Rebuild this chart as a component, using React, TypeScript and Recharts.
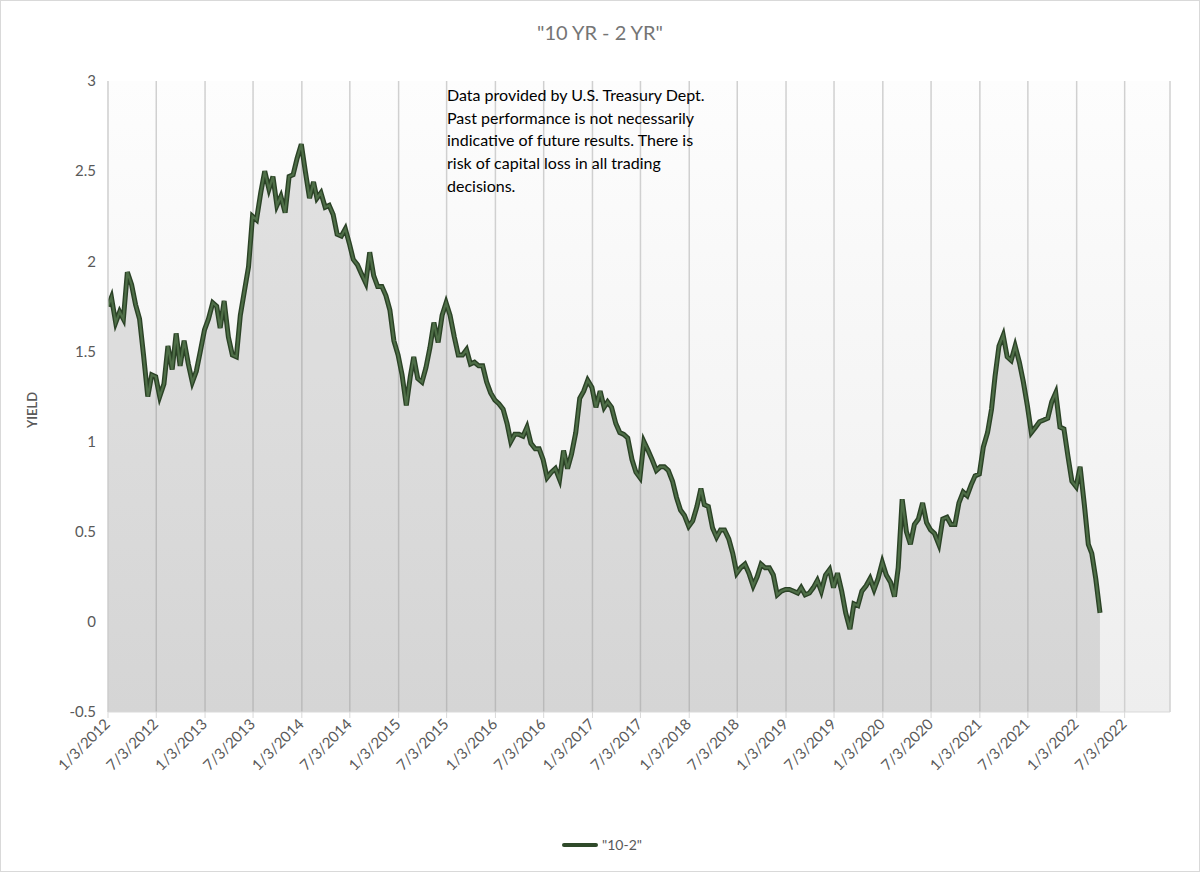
import React from 'react';
import { Area, CartesianGrid, ComposedChart, Line, XAxis, YAxis } from 'recharts';

// Readings of the 10y-2y spread, one on the 1st and one on the 16th of each
// month (2012 starts on Jan 3, 2022 stops at Apr 1).
const y2012 = [1.75, 1.80, 1.66, 1.72, 1.68, 1.94, 1.87, 1.76, 1.68, 1.48, 1.25, 1.37, 1.36, 1.25, 1.32, 1.53, 1.40, 1.60, 1.42, 1.56, 1.43, 1.33, 1.39, 1.50];
const y2013 = [1.62, 1.68, 1.77, 1.75, 1.63, 1.78, 1.58, 1.48, 1.47, 1.70, 1.84, 1.97, 2.25, 2.23, 2.38, 2.50, 2.40, 2.47, 2.31, 2.36, 2.27, 2.47, 2.48, 2.57];
const y2014 = [2.65, 2.50, 2.35, 2.44, 2.35, 2.38, 2.30, 2.31, 2.26, 2.15, 2.14, 2.18, 2.10, 2.01, 1.98, 1.93, 1.88, 2.05, 1.92, 1.86, 1.86, 1.81, 1.73, 1.56];
const y2015 = [1.48, 1.37, 1.20, 1.36, 1.47, 1.35, 1.33, 1.41, 1.52, 1.66, 1.55, 1.70, 1.77, 1.70, 1.58, 1.48, 1.48, 1.51, 1.43, 1.44, 1.42, 1.42, 1.33, 1.27];
const y2016 = [1.23, 1.21, 1.18, 1.10, 1.00, 1.04, 1.04, 1.03, 1.08, 0.99, 0.96, 0.96, 0.90, 0.80, 0.83, 0.85, 0.79, 0.95, 0.85, 0.93, 1.05, 1.24, 1.28, 1.34];
const y2017 = [1.30, 1.19, 1.28, 1.19, 1.22, 1.19, 1.10, 1.05, 1.04, 1.02, 0.90, 0.83, 0.80, 1.00, 0.95, 0.90, 0.84, 0.86, 0.86, 0.84, 0.78, 0.69, 0.62, 0.59];
const y2018 = [0.53, 0.56, 0.64, 0.74, 0.65, 0.64, 0.52, 0.47, 0.51, 0.51, 0.46, 0.38, 0.27, 0.30, 0.32, 0.27, 0.20, 0.25, 0.32, 0.30, 0.30, 0.26, 0.15, 0.17];
const y2019 = [0.18, 0.18, 0.17, 0.16, 0.19, 0.15, 0.16, 0.19, 0.23, 0.17, 0.26, 0.29, 0.19, 0.27, 0.17, 0.05, -0.04, 0.10, 0.09, 0.17, 0.20, 0.24, 0.18, 0.24];
const y2020 = [0.33, 0.26, 0.22, 0.14, 0.30, 0.68, 0.50, 0.43, 0.54, 0.57, 0.66, 0.55, 0.51, 0.49, 0.43, 0.57, 0.58, 0.54, 0.54, 0.66, 0.72, 0.70, 0.76, 0.81];
const y2021 = [0.82, 0.97, 1.05, 1.18, 1.36, 1.53, 1.59, 1.47, 1.45, 1.53, 1.44, 1.33, 1.20, 1.05, 1.08, 1.11, 1.12, 1.13, 1.22, 1.27, 1.08, 1.07, 0.92, 0.78];
const y2022 = [0.75, 0.86, 0.65, 0.43, 0.38, 0.24, 0.05];

const years = [2012, 2013, 2014, 2015, 2016, 2017, 2018, 2019, 2020, 2021, 2022];
const yearly = [y2012, y2013, y2014, y2015, y2016, y2017, y2018, y2019, y2020, y2021, y2022];

const xTickLabels = [
  '1/3/2012', '7/3/2012', '1/3/2013', '7/3/2013', '1/3/2014', '7/3/2014',
  '1/3/2015', '7/3/2015', '1/3/2016', '7/3/2016', '1/3/2017', '7/3/2017',
  '1/3/2018', '7/3/2018', '1/3/2019', '7/3/2019', '1/3/2020', '7/3/2020',
  '1/3/2021', '7/3/2021', '1/3/2022', '7/3/2022',
];
const yTicks = [-0.5, 0, 0.5, 1, 1.5, 2, 2.5, 3];
const axisEnd = '12/21/2022';

const FONT = 'Lato, "Open Sans", sans-serif';
const INK = '#595959';
const EDGE = '#d9d9d9';

const toTime = (s: string) => {
  const [m, d, y] = s.split('/').map(Number);
  return Date.UTC(y, m - 1, d);
};

const data = yearly.flatMap((vals, yi) =>
  vals.map((v, i) => {
    const day = i % 2 ? 16 : yi === 0 && i === 0 ? 3 : 1;
    return { t: Date.UTC(years[yi], Math.floor(i / 2), day), v };
  }),
);

const xTicks = xTickLabels.map(toTime);
const labelOf = new Map(xTickLabels.map((s) => [toTime(s), s]));

function DateTick({ x, y, payload }: any) {
  const px = x + 3;
  const py = y + 5;
  return (
    <text
      x={px}
      y={py}
      transform={`rotate(-45 ${px} ${py})`}
      textAnchor="end"
      fontSize={15}
      fontFamily={FONT}
      fill={INK}
    >
      {labelOf.get(payload.value)}
    </text>
  );
}

export default function App() {
  return (
    <div style={{ position: 'relative', width: 1200, height: 872, background: '#fff', fontFamily: FONT }}>
      <style>{'body{margin:0}'}</style>
      <ComposedChart
        width={1200}
        height={872}
        data={data}
        margin={{ top: 81, right: 30, bottom: 0, left: 0 }}
      >
        <defs>
          <linearGradient id="plotBg" x1="0" y1="0" x2="0" y2="1">
            <stop offset="0%" stopColor="#fdfdfd" />
            <stop offset="100%" stopColor="#eeeeee" />
          </linearGradient>
        </defs>
        <CartesianGrid horizontal={false} stroke="#d0d0d0" strokeWidth={1.5} fill="url(#plotBg)" />
        <XAxis
          type="number"
          dataKey="t"
          domain={[toTime(xTickLabels[0]), toTime(axisEnd)]}
          ticks={xTicks}
          interval={0}
          height={160}
          allowDataOverflow
          axisLine={{ stroke: EDGE }}
          tickLine={{ stroke: EDGE }}
          tickSize={6}
          tick={<DateTick />}
        />
        <YAxis
          domain={[-0.5, 3]}
          ticks={yTicks}
          width={108}
          axisLine={{ stroke: EDGE }}
          tickLine={false}
          tickMargin={6}
          tick={{ fill: INK, fontSize: 15, fontFamily: FONT }}
        />
        <Area
          type="linear"
          dataKey="v"
          baseValue={-0.5}
          stroke="none"
          fill="#000"
          fillOpacity={0.1}
          isAnimationActive={false}
        />
        <Line type="linear" dataKey="v" stroke="#2b4226" strokeWidth={5} dot={false} activeDot={false} isAnimationActive={false} />
        <Line type="linear" dataKey="v" stroke="#4e6e47" strokeWidth={2.2} dot={false} activeDot={false} isAnimationActive={false} />
      </ComposedChart>

      <div style={{ position: 'absolute', top: 20, left: 0, width: 1200, textAlign: 'center', fontSize: 20, color: '#757575' }}>
        "10 YR - 2 YR"
      </div>

      <div
        style={{
          position: 'absolute',
          left: 32,
          top: 410,
          transform: 'translate(-50%, -50%) rotate(-90deg)',
          fontSize: 13,
          color: INK,
          fontWeight: 600,
        }}
      >
        YIELD
      </div>

      <div style={{ position: 'absolute', left: 447, top: 84, fontSize: 16, lineHeight: '22.7px', color: '#000' }}>
        Data provided by U.S. Treasury Dept.
        <br />
        Past performance is not necessarily
        <br />
        indicative of future results. There is
        <br />
        risk of capital loss in all trading
        <br />
        decisions.
      </div>

      <div style={{ position: 'absolute', left: 562, top: 836, display: 'flex', alignItems: 'center', gap: 4, fontSize: 14, color: INK }}>
        <span style={{ display: 'inline-block', width: 36, height: 4, background: '#2f4a2a', borderRadius: 2 }} />
        <span>"10-2"</span>
      </div>

      <div style={{ position: 'absolute', inset: 0, border: `1px solid ${EDGE}`, pointerEvents: 'none' }} />
    </div>
  );
}
